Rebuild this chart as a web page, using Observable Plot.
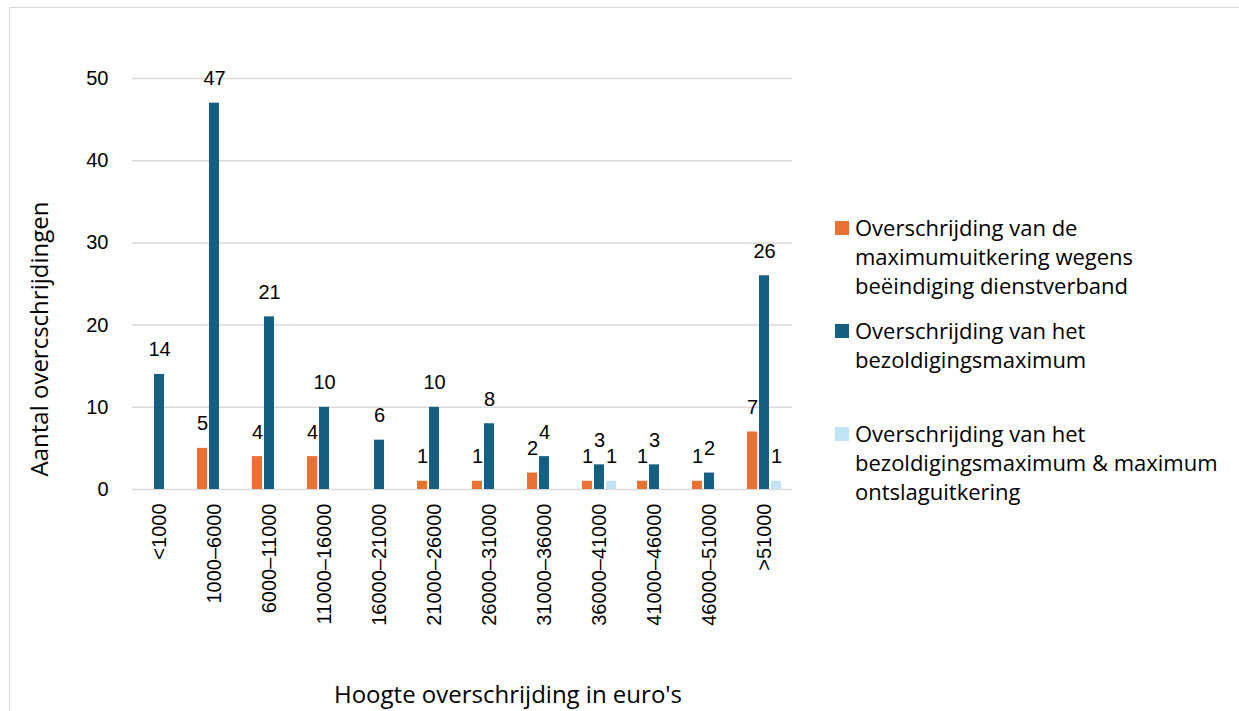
<!DOCTYPE html>
<html>
<head>
<meta charset="utf-8">
<script src="https://cdn.jsdelivr.net/npm/d3@7"></script>
<script src="https://cdn.jsdelivr.net/npm/@observablehq/plot@0.6"></script>
<style>
  html, body { margin: 0; padding: 0; background: #fff; }
  #wrap { position: relative; width: 1239px; height: 711px; overflow: hidden; background: #fff; }
  #border { position: absolute; left: 9px; top: 7px; width: 1260px; height: 740px; border: 1.5px solid #d9d9d9; box-sizing: border-box; }
  #chart { position: absolute; left: 0; top: 0; }
  .title { position: absolute; font-family: "Open Sans", sans-serif; color: #000; white-space: nowrap; }
  #ytitle { left: 38px; top: 339px; font-size: 24px; transform: translate(-50%, -50%) rotate(-90deg); }
  #xtitle { left: 508px; top: 693px; font-size: 24px; transform: translate(-50%, -50%); }
  .leg { position: absolute; left: 835px; font-family: "Open Sans", sans-serif; font-size: 22px; line-height: 29px; color: #000; display: flex; align-items: flex-start; }
  .leg .sw { width: 14px; height: 14px; margin-top: 8px; margin-right: 6px; flex: none; }
  .leg .tx { white-space: pre; }
</style>
</head>
<body>
<div id="wrap">
  <div id="border"></div>
  <div id="chart"></div>
  <div class="title" id="ytitle">Aantal overcschrijdingen</div>
  <div class="title" id="xtitle">Hoogte overschrijding in euro's</div>
</div>
<script>
const categories = ["<1000", "1000–6000", "6000–11000", "11000–16000", "16000–21000", "21000–26000", "26000–31000", "31000–36000", "36000–41000", "41000–46000", "46000–51000", ">51000"];
const seriesNames = [
  "Overschrijding van de\nmaximumuitkering wegens\nbeëindiging dienstverband",
  "Overschrijding van het\nbezoldigingsmaximum",
  "Overschrijding van het\nbezoldigingsmaximum & maximum\nontslaguitkering"
];
const ontslaguitkering = [0, 5, 4, 4, 0, 1, 1, 2, 1, 1, 1, 7];
const bezoldigingsmaximum = [14, 47, 21, 10, 6, 10, 8, 4, 3, 3, 2, 26];
const beide = [0, 0, 0, 0, 0, 0, 0, 0, 1, 0, 0, 1];
const colors = ["#E97132", "#156082", "#C1E4F5"];
const yTicks = [0, 10, 20, 30, 40, 50];
const legendTops = [213, 316, 419];

const seriesValues = [ontslaguitkering, bezoldigingsmaximum, beide];
const data = [];
categories.forEach((c, i) => {
  seriesNames.forEach((s, j) => {
    data.push({cat: c, series: s, value: seriesValues[j][i]});
  });
});
const labelled = data.filter(d => d.value > 0);
const font = "Liberation Sans, Arial, sans-serif";

const chart = Plot.plot({
  width: 820,
  height: 640,
  marginLeft: 130,
  marginRight: 26,
  marginTop: 78,
  marginBottom: 151,
  style: {background: "transparent", fontFamily: font, fontSize: "20px", color: "#000"},
  fx: {domain: categories, padding: 0, label: null},
  x: {domain: seriesNames, paddingInner: 0.15, paddingOuter: 0.8, axis: null},
  y: {domain: [0, 50], label: null},
  color: {domain: seriesNames, range: colors},
  marks: [
    Plot.gridY(yTicks, {stroke: "#d9d9d9", strokeOpacity: 1, strokeWidth: 1.5}),
    Plot.axisY(yTicks, {tickSize: 0, tickPadding: 24, fontSize: 20, fontFamily: font, fill: "#000", label: null}),
    Plot.axisFx({anchor: "bottom", tickRotate: -90, tickSize: 0, tickPadding: 14, fontSize: 20, fontFamily: font, fill: "#000", label: null}),
    Plot.barY(data, {fx: "cat", x: "series", y: "value", fill: "series"}),
    Plot.text(labelled, {fx: "cat", x: "series", y: "value", text: d => String(d.value), lineAnchor: "bottom", dy: -18, fill: "#000", fontSize: 20, fontFamily: font})
  ]
});
document.getElementById("chart").appendChild(chart);

const wrap = document.getElementById("wrap");
seriesNames.forEach((s, j) => {
  const item = document.createElement("div");
  item.className = "leg";
  item.style.top = legendTops[j] + "px";
  const sw = document.createElement("div");
  sw.className = "sw";
  sw.style.background = colors[j];
  const tx = document.createElement("div");
  tx.className = "tx";
  tx.textContent = s;
  item.appendChild(sw);
  item.appendChild(tx);
  wrap.appendChild(item);
});
</script>
</body>
</html>
